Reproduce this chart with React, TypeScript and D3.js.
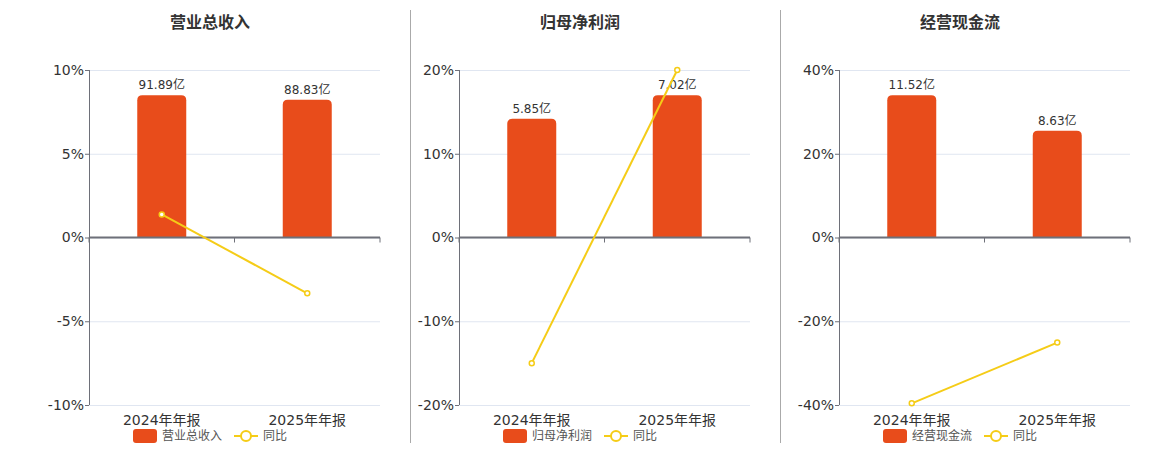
import * as d3 from "d3";

const categories = ["2024年年报", "2025年年报"];

const titles = ["营业总收入", "归母净利润", "经营现金流"];
const barValues = [
  [91.89, 88.83],
  [5.85, 7.02],
  [11.52, 8.63],
];
const yoyValues = [
  [1.38, -3.33],
  [-15.0, 20.0],
  [-39.6, -25.1],
];
const yMax = [10, 20, 40];
const yStep = [5, 10, 20];

const W = 1160;
const H = 450;
const panelX = [0, 370, 750];
const separators = [410.5, 780.5];
const BAR = "#E84C1B";
const LINE = "#F5CC17";
const FONT = "'DejaVu Sans', 'Noto Sans CJK SC', sans-serif";

type PanelProps = { index: number };

const Panel = ({ index }: PanelProps) => {
  const left = 89;
  const right = 380;
  const top = 70;
  const bottom = 405;

  const x = d3.scaleBand<string>().domain(categories).range([left, right]);
  const m = yMax[index];
  const y = d3.scaleLinear().domain([-m, m]).range([bottom, top]);
  const ticks = d3.range(-m, m + 0.001, yStep[index]);

  const bars = barValues[index];
  const bMax = (d3.max(bars) ?? 1) / 0.85;
  const yBar = d3.scaleLinear().domain([-bMax, bMax]).range([bottom, top]);
  const barW = 49;

  const yoy = yoyValues[index];
  const line = d3
    .line<number>()
    .x((_, i) => (x(categories[i]) ?? 0) + x.bandwidth() / 2)
    .y((d) => y(d));

  const zero = y(0);
  const legendY = 436;

  return (
    <g transform={`translate(${panelX[index]},0)`} fontFamily={FONT}>
      <text x={210} y={28} textAnchor="middle" fontSize={16} fontWeight="bold" fill="#333">
        {titles[index]}
      </text>

      {ticks.map((t) => (
        <g key={t}>
          <line x1={left} x2={right} y1={y(t) + 0.5} y2={y(t) + 0.5} stroke="#E0E6F1" />
          <line x1={left - 4} x2={left} y1={y(t) + 0.5} y2={y(t) + 0.5} stroke="#6E7079" />
          <text x={left - 5} y={y(t)} dy="0.35em" textAnchor="end" fontSize={14} fill="#333">
            {`${t}%`}
          </text>
        </g>
      ))}
      <line x1={left + 0.5} x2={left + 0.5} y1={top} y2={bottom} stroke="#6E7079" />

      {bars.map((v, i) => {
        const cx = (x(categories[i]) ?? 0) + x.bandwidth() / 2;
        const yt = yBar(v);
        const h = yBar(0) - yt;
        const r = 5;
        const x0 = cx - barW / 2;
        const d = `M${x0},${yt + h} V${yt + r} Q${x0},${yt} ${x0 + r},${yt} H${x0 + barW - r} Q${x0 + barW},${yt} ${x0 + barW},${yt + r} V${yt + h} Z`;
        return (
          <g key={i}>
            <path d={d} fill={BAR} />
            <text x={cx} y={yt - 6} textAnchor="middle" fontSize={12} fill="#333">
              {`${v.toFixed(2)}亿`}
            </text>
          </g>
        );
      })}

      <line x1={left} x2={right} y1={zero} y2={zero} stroke="#6E7079" strokeWidth={2} />
      {[left, left + x.bandwidth(), right].map((tx, i) => (
        <line key={i} x1={tx} x2={tx} y1={zero} y2={zero + 5} stroke="#6E7079" />
      ))}

      {categories.map((c) => (
        <text
          key={c}
          x={(x(c) ?? 0) + x.bandwidth() / 2}
          y={425}
          textAnchor="middle"
          fontSize={14}
          fill="#333"
        >
          {c}
        </text>
      ))}

      <path d={line(yoy) ?? undefined} fill="none" stroke={LINE} strokeWidth={2} />
      {yoy.map((v, i) => (
        <circle
          key={i}
          cx={(x(categories[i]) ?? 0) + x.bandwidth() / 2}
          cy={y(v)}
          r={2.5}
          fill="#fff"
          stroke={LINE}
          strokeWidth={1.5}
        />
      ))}

      <rect x={133} y={legendY - 7} width={24} height={14} rx={3} fill={BAR} />
      <text x={162} y={legendY} dy="0.35em" fontSize={12} fill="#555">
        {titles[index]}
      </text>
      <line x1={234} x2={258} y1={legendY} y2={legendY} stroke={LINE} strokeWidth={2} />
      <circle cx={246} cy={legendY} r={5} fill="#fff" stroke={LINE} strokeWidth={2} />
      <text x={263} y={legendY} dy="0.35em" fontSize={12} fill="#555">
        同比
      </text>
    </g>
  );
};

const App = () => (
  <svg width={W} height={H} viewBox={`0 0 ${W} ${H}`} style={{ position: "absolute", left: 0, top: 0 }}>
    <rect width={W} height={H} fill="#fff" />
    {separators.map((s) => (
      <line key={s} x1={s} x2={s} y1={10} y2={443} stroke="#AAAAAA" />
    ))}
    {titles.map((_, i) => (
      <Panel key={i} index={i} />
    ))}
  </svg>
);

export default App;
